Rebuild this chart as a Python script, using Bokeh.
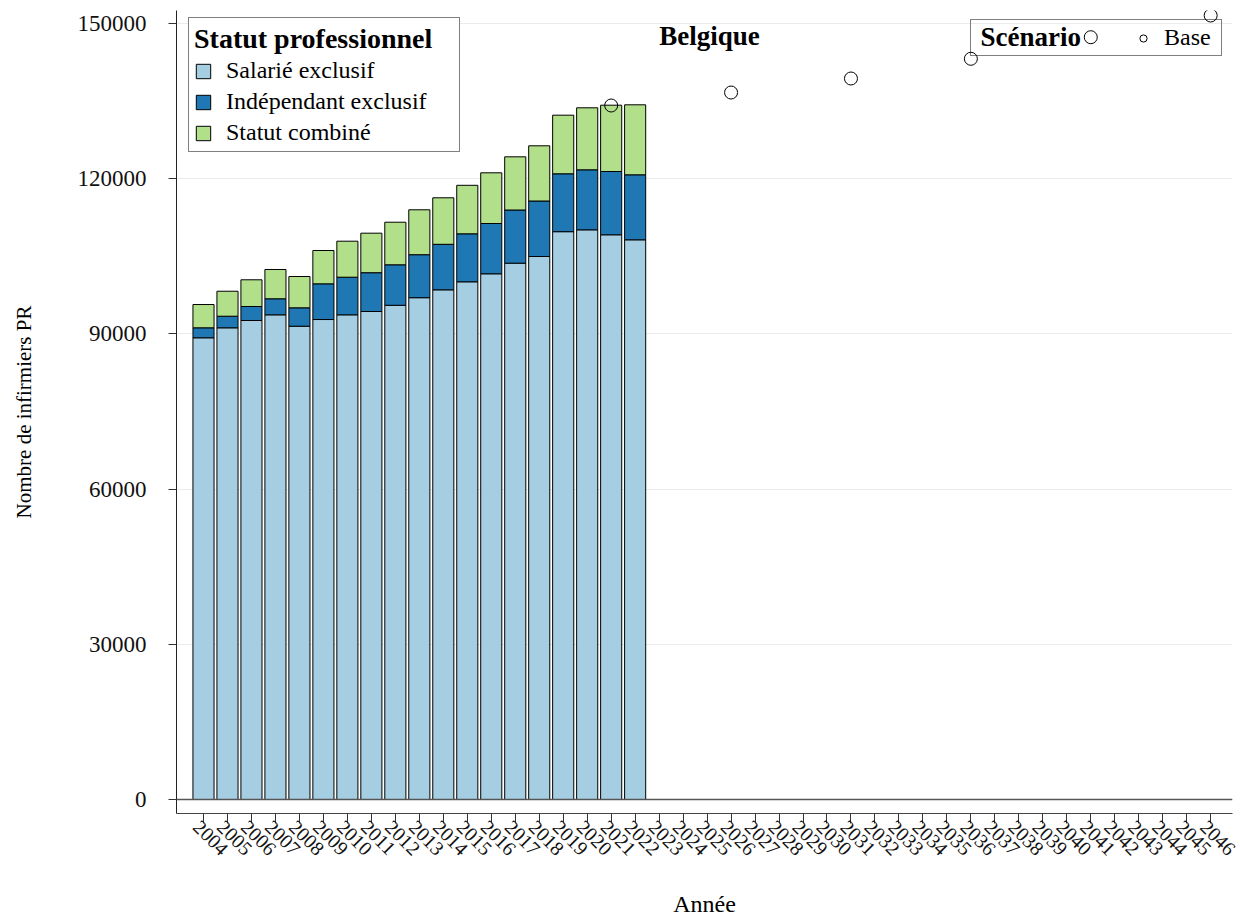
import math
from bokeh.plotting import figure
from bokeh.models import (ColumnDataSource, Legend, LegendItem, FixedTicker, LinearAxis,
                          BasicTickFormatter, CustomJSTickFormatter, Span, Label, Range1d)
from bokeh.embed import file_html
from bokeh.resources import INLINE

# ---------------- data ----------------
years = list(range(2004, 2023))
salarie_exclusif = [89250, 91180, 92590, 93690, 91490, 92780, 93690, 94330, 95530, 97000,
                    98520, 100070, 101620, 103670, 104960, 109760, 110120, 109160, 108190]
independant_exclusif = [1930, 2240, 2710, 3100, 3555, 6900, 7270, 7500, 7830, 8310,
                        8800, 9280, 9720, 10280, 10730, 11190, 11600, 12230, 12565]
statut_combine = [4500, 4830, 5160, 5660, 6050, 6440, 6960, 7640, 8230, 8680,
                  8990, 9375, 9800, 10280, 10670, 11330, 11985, 12820, 13530]

scenario_years = [2021, 2026, 2031, 2036, 2041, 2046]
scenario_base = [134150, 136660, 139370, 143180, 147350, 151550]

x_tick_years = list(range(2004, 2047))
y_ticks = [0, 30000, 60000, 90000, 120000, 150000]

series_labels = ["Salarié exclusif", "Indépendant exclusif", "Statut combiné"]
series_colors = ["#A6CEE3", "#1F78B4", "#B2DF8A"]

FONT = "Liberation Serif"
LABEL_SHIFT = 0.28   # rotated year labels sit slightly left of their tick

# ---------------- figure ----------------
x0, x1 = 2002.874, 2046.91
y0, y1 = -2706, 152514

p = figure(width=1240, height=921, output_backend="svg", toolbar_location=None,
           x_range=Range1d(x0, x1), y_range=Range1d(y0, y1),
           min_border_left=176, min_border_right=8, min_border_top=10,
           min_border_bottom=108)
p.outline_line_color = None
p.background_fill_color = "white"

src = ColumnDataSource(dict(year=years, sal=salarie_exclusif,
                            ind=independant_exclusif, comb=statut_combine))
bars = p.vbar_stack(["sal", "ind", "comb"], x="year", width=0.88, source=src,
                    fill_color=series_colors, line_color="black", line_width=1)

zero = Span(location=0, dimension="width", line_color="#555555", line_width=1.5)
p.add_layout(zero)

ssrc = ColumnDataSource(dict(year=scenario_years, val=scenario_base))
pts = p.scatter("year", "val", source=ssrc, marker="circle", size=13,
                fill_color=None, line_color="black", line_width=1)

# invisible renderer used only to reserve room for the legend title on the left
spacer = p.scatter(x=[], y=[], marker="circle", size=1, fill_alpha=0, line_alpha=0)

# ---------------- axes ----------------
p.xgrid.grid_line_color = None
p.ygrid.grid_line_color = "#EBEBEB"
p.ygrid.ticker = FixedTicker(ticks=y_ticks)

p.yaxis.ticker = FixedTicker(ticks=y_ticks)
p.yaxis.formatter = BasicTickFormatter(use_scientific=False)
p.yaxis.axis_label = "Nombre de infirmiers PR"
p.yaxis.axis_label_text_font = FONT
p.yaxis.axis_label_text_font_size = "21px"
p.yaxis.axis_label_text_font_style = "normal"
p.yaxis.axis_label_text_color = "black"
p.yaxis.axis_label_standoff = 39
p.yaxis.major_label_text_font = FONT
p.yaxis.major_label_text_font_size = "23px"
p.yaxis.major_label_text_color = "#111111"
p.yaxis.major_label_standoff = 22
p.yaxis.major_tick_out = 8
p.yaxis.major_tick_in = 0
p.yaxis.minor_tick_line_color = None
p.yaxis.axis_line_color = "#222222"
p.yaxis.major_tick_line_color = "#333333"

# axis A: line + tick marks at the years (no visible labels)
xa = p.xaxis[0]
xa.ticker = FixedTicker(ticks=x_tick_years)
xa.formatter = CustomJSTickFormatter(code="return '';")
xa.major_label_text_font_size = "1px"
xa.major_label_standoff = 0
xa.major_tick_out = 10
xa.major_tick_in = 0
xa.minor_tick_line_color = None
xa.axis_line_color = "#444444"
xa.major_tick_line_color = "#333333"

# axis B: rotated year labels + axis title
xb = LinearAxis(ticker=FixedTicker(ticks=[y - LABEL_SHIFT for y in x_tick_years]),
                formatter=CustomJSTickFormatter(
                    args=dict(shift=LABEL_SHIFT),
                    code="return String(Math.round(tick + shift));"))
xb.axis_line_color = None
xb.major_tick_line_color = None
xb.minor_tick_line_color = None
xb.major_tick_out = 0
xb.major_tick_in = 0
xb.major_label_standoff = 0
xb.major_label_text_font = FONT
xb.major_label_text_font_size = "20px"
xb.major_label_text_color = "#111111"
xb.major_label_orientation = -math.pi / 4
xb.axis_label = "Année"
xb.axis_label_text_font = FONT
xb.axis_label_text_font_size = "24px"
xb.axis_label_text_font_style = "normal"
xb.axis_label_text_color = "black"
xb.axis_label_standoff = 26
p.add_layout(xb, "below")

# ---------------- title ----------------
title = Label(x=2025.1, y=147500, text="Belgique", text_align="center",
              text_baseline="middle", text_font=FONT, text_font_size="27px",
              text_font_style="bold", text_color="black")
p.add_layout(title)

# ---------------- legends ----------------
leg1 = Legend(items=[LegendItem(label=lab, renderers=[r]) for lab, r in zip(series_labels, bars)],
              location=(12, 661), title="Statut professionnel",
              title_text_font=FONT, title_text_font_size="28px", title_text_font_style="bold",
              title_text_color="black",
              label_text_font=FONT, label_text_font_size="24px", label_text_color="black",
              glyph_width=18, glyph_height=18, label_standoff=14, label_width=228,
              padding=5, spacing=4, margin=0, title_standoff=2,
              border_line_color="black", border_line_width=1,
              background_fill_color="white", background_fill_alpha=1.0)
p.add_layout(leg1)

leg2 = Legend(items=[LegendItem(label=" ", renderers=[spacer]),
                     LegendItem(label="Base", renderers=[pts])],
              location=(794, 757), orientation="horizontal",
              label_text_font=FONT, label_text_font_size="24px", label_text_color="black",
              glyph_width=18, glyph_height=18, label_standoff=12, label_width=53,
              padding=4, spacing=76, margin=0,
              border_line_color="black", border_line_width=1,
              background_fill_alpha=0.0)
p.add_layout(leg2)

scen_title = Label(x=2036.4, y=147300, text="Scénario", text_align="left",
                   text_baseline="middle", text_font=FONT, text_font_size="27px",
                   text_font_style="bold", text_color="black")
p.add_layout(scen_title)

open("out.html", "w").write(file_html(p, INLINE))
